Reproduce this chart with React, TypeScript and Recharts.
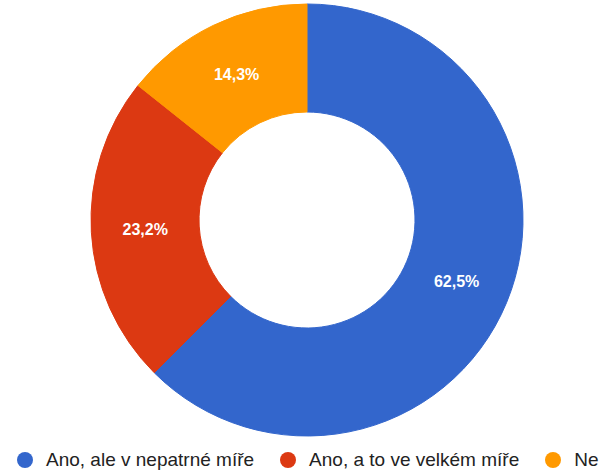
import { PieChart, Pie, Cell, Legend } from "recharts";

const CATEGORIES = ["Ano, ale v nepatrné míře", "Ano, a to ve velkém míře", "Ne"];
const VALUES = [62.5, 23.2, 14.3];
const COLORS = ["#3366cc", "#dc3912", "#ff9900"];

const data = CATEGORIES.map((name, i) => ({ name, value: VALUES[i] }));

const RAD = Math.PI / 180;

// eslint-disable-next-line @typescript-eslint/no-explicit-any
function renderLabel(props: any) {
  const { cx, cy, midAngle, innerRadius, outerRadius, percent } = props;
  const r = (innerRadius + outerRadius) / 2;
  const x = cx + r * Math.cos(-midAngle * RAD);
  const y = cy + r * Math.sin(-midAngle * RAD);
  return (
    <text
      x={x}
      y={y}
      fill="#ffffff"
      textAnchor="middle"
      dominantBaseline="central"
      fontSize={16}
      fontWeight="bold"
      fontFamily="Arial, 'Liberation Sans', sans-serif"
    >
      {(percent * 100).toFixed(1).replace(".", ",")}%
    </text>
  );
}

// legend drawn in category order (recharts would sort it by name)
function renderLegend() {
  return (
    <div style={{ display: "flex", alignItems: "center" }}>
      {CATEGORIES.map((name, i) => (
        <div key={name} style={{ display: "flex", alignItems: "center", marginRight: 26 }}>
          <span
            style={{
              width: 16,
              height: 16,
              borderRadius: "50%",
              background: COLORS[i],
              display: "inline-block",
              marginRight: 13,
            }}
          />
          <span
            style={{
              fontSize: 19,
              color: "#222222",
              fontFamily: "Arial, 'Liberation Sans', sans-serif",
              whiteSpace: "nowrap",
            }}
          >
            {name}
          </span>
        </div>
      ))}
    </div>
  );
}

export default function App() {
  return (
    <div style={{ position: "absolute", left: 0, top: 0, width: 603, height: 471, background: "#fff" }}>
      <PieChart width={603} height={471}>
        <Pie
          data={data}
          dataKey="value"
          nameKey="name"
          cx={302}
          cy={215}
          outerRadius={216}
          innerRadius={108}
          startAngle={90}
          endAngle={-270}
          label={renderLabel}
          labelLine={false}
          isAnimationActive={false}
        >
          {data.map((d, i) => (
            <Cell key={d.name} fill={COLORS[i]} stroke={COLORS[i]} />
          ))}
        </Pie>
        <Legend
          content={renderLegend}
          wrapperStyle={{ position: "absolute", left: 17, top: 449, width: 603, height: 20 }}
        />
      </PieChart>
    </div>
  );
}
